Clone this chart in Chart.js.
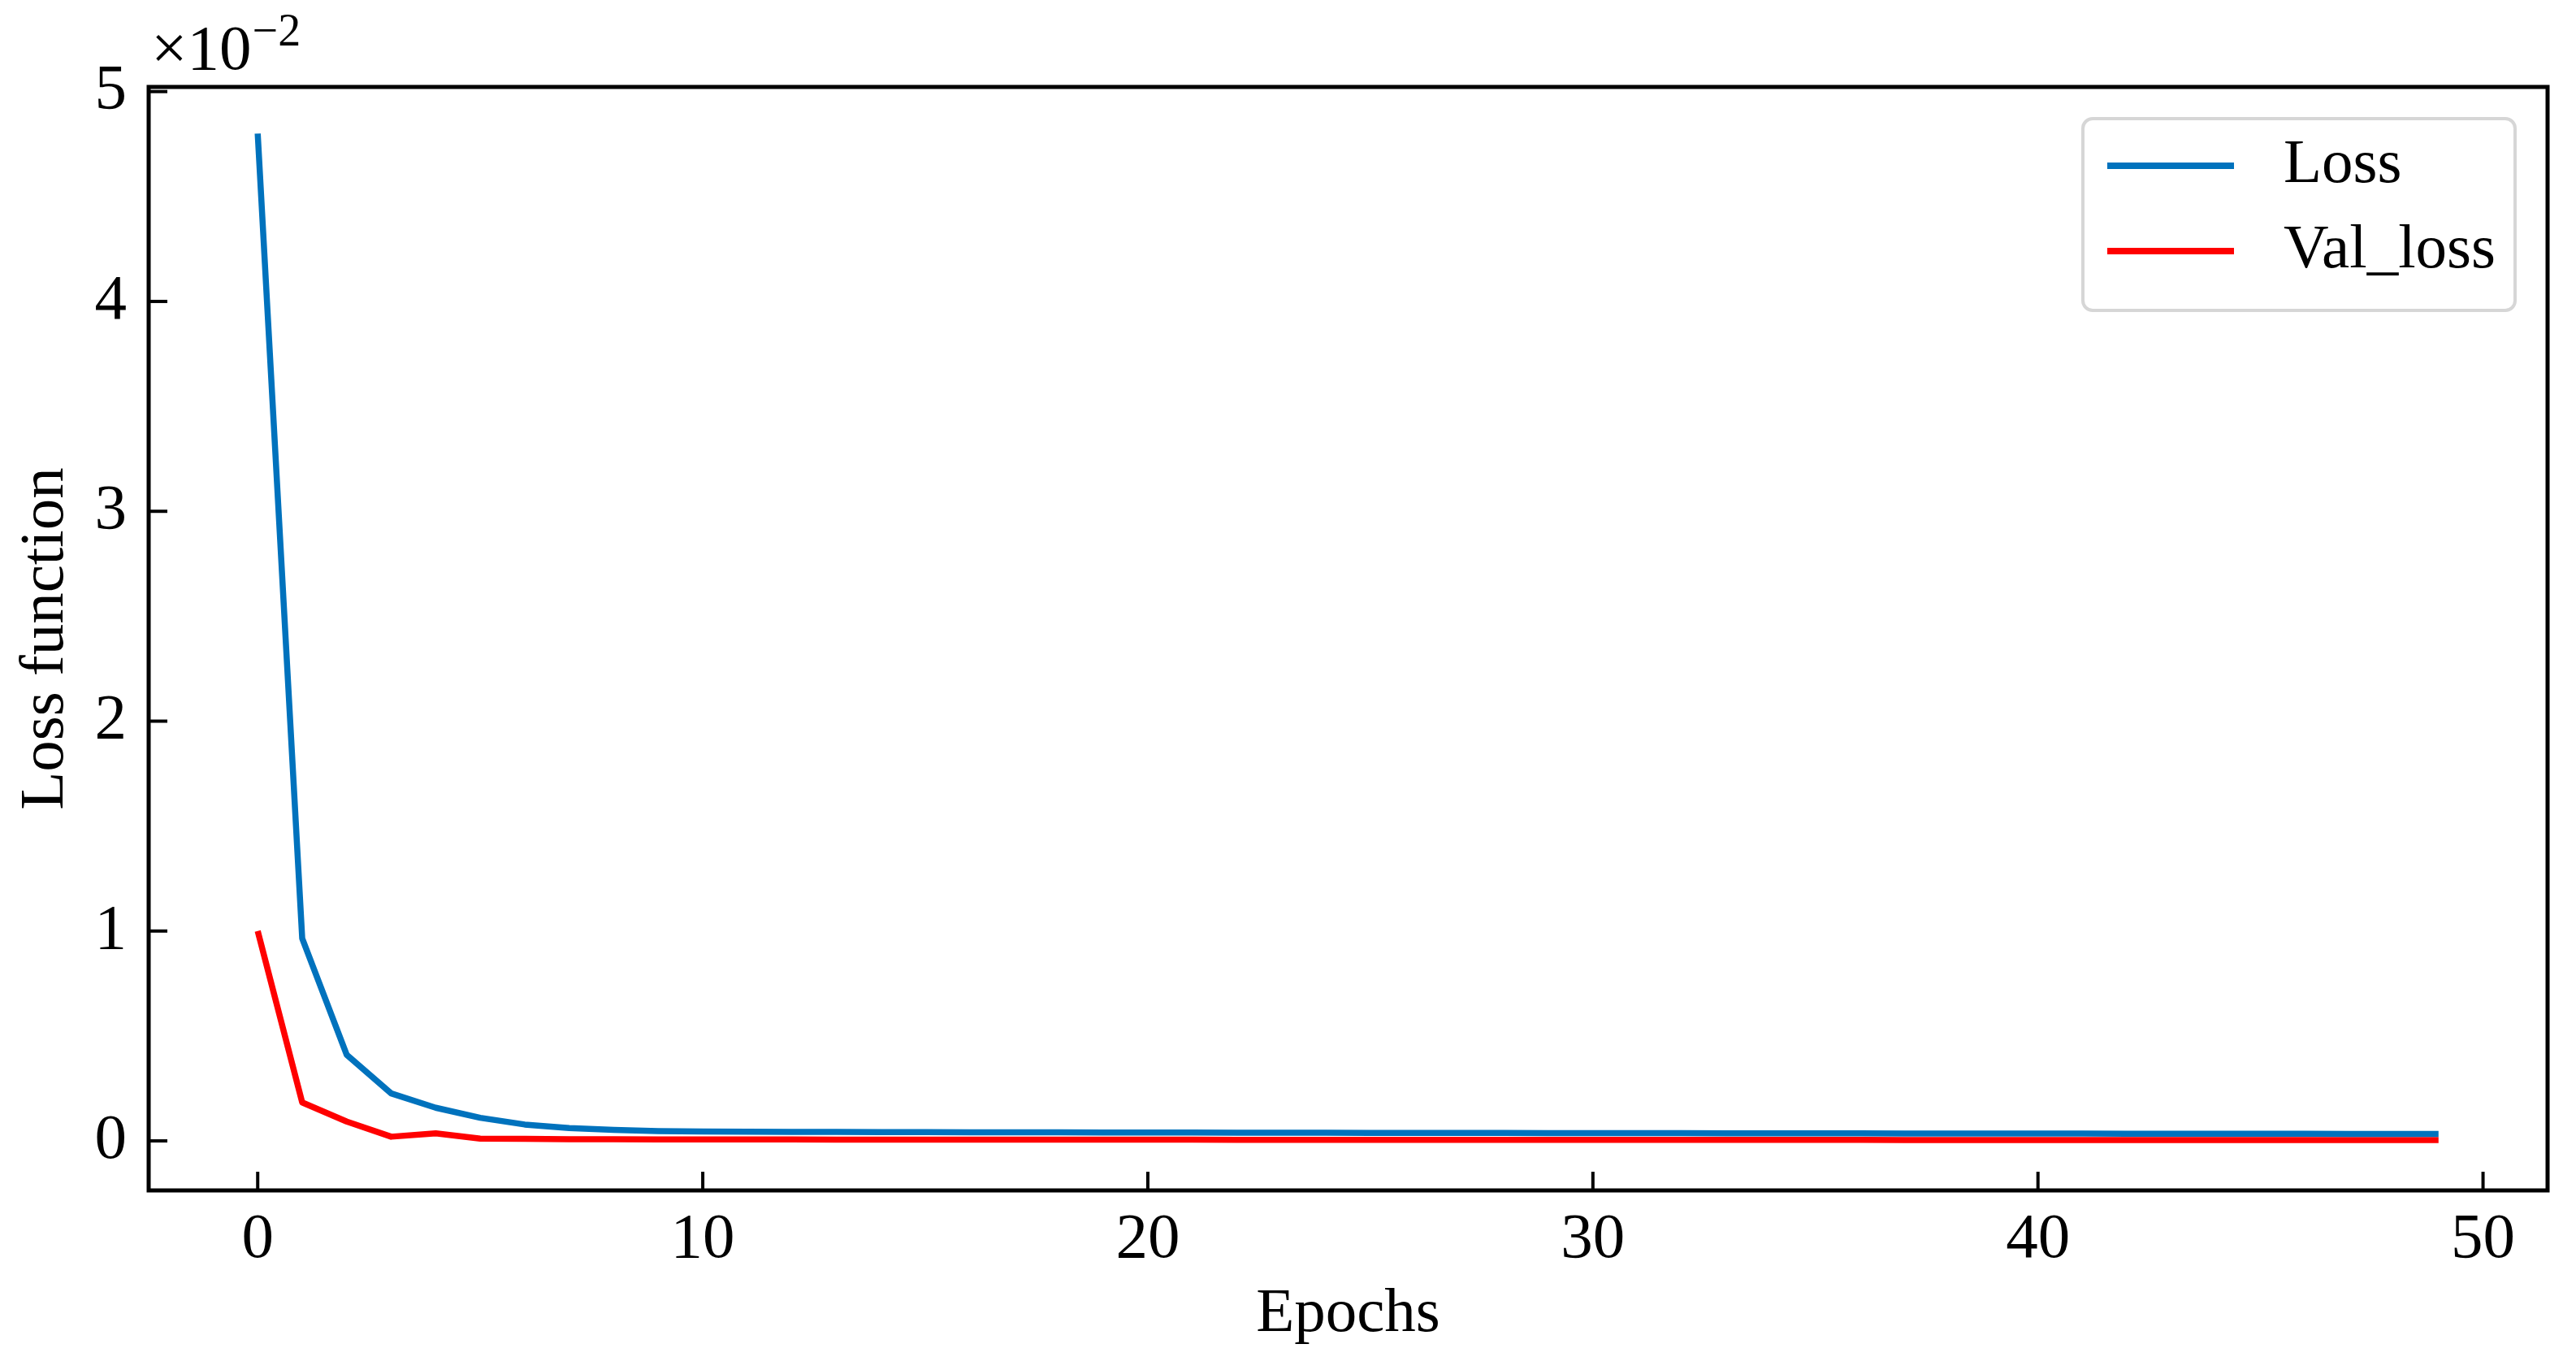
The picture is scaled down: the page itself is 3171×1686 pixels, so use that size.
<!DOCTYPE html>
<html>
<head>
<meta charset="utf-8">
<script src="https://cdn.jsdelivr.net/npm/chart.js@4.4.0/dist/chart.umd.min.js"></script>
<style>
  html, body { margin: 0; padding: 0; background: #fff; }
</style>
</head>
<body>
<canvas id="lossChart" width="3171" height="1686"></canvas>
<script>
"use strict"
// training history, values in units of 1e-2
var epochs = [0,1,2,3,4,5,6,7,8,9,10,11,12,13,14,15,16,17,18,19,20,21,22,23,24,
  25,26,27,28,29,30,31,32,33,34,35,36,37,38,39,40,41,42,43,44,45,46,47,48,49];
var lossVals = [4.80, 0.965, 0.41, 0.226, 0.158, 0.110, 0.078, 0.061, 0.052, 0.047,
  0.045, 0.044, 0.043, 0.043, 0.042, 0.042, 0.041, 0.041, 0.041, 0.040,
  0.040, 0.040, 0.039, 0.039, 0.039, 0.038, 0.038, 0.038, 0.038, 0.037,
  0.037, 0.037, 0.037, 0.036, 0.036, 0.036, 0.036, 0.035, 0.035, 0.035,
  0.035, 0.035, 0.034, 0.034, 0.034, 0.034, 0.034, 0.033, 0.033, 0.033];
var valLossVals = [1.00, 0.183, 0.092, 0.020, 0.036, 0.011, 0.010, 0.008, 0.008, 0.007,
  0.007, 0.007, 0.007, 0.006, 0.006, 0.006, 0.006, 0.006, 0.006, 0.006,
  0.006, 0.006, 0.005, 0.005, 0.005, 0.005, 0.005, 0.005, 0.005, 0.005,
  0.005, 0.005, 0.005, 0.005, 0.005, 0.005, 0.005, 0.004, 0.004, 0.004,
  0.004, 0.004, 0.004, 0.004, 0.004, 0.004, 0.004, 0.004, 0.004, 0.004];
var xTicks = [0, 10, 20, 30, 40, 50];
var yTicks = [0, 1, 2, 3, 4, 5];
var seriesNames = ["Loss", "Val_loss"];

var FONT = "Liberation Serif";

function toPoints(vals) {
  return epochs.map(function(e, i) { return {x: e, y: vals[i]}; });
}

// frame, inward ticks, offset text and legend box (matplotlib look)
var mplFrame = {
  id: "mplFrame",
  afterDraw: function(chart) {
    var ctx = chart.ctx;
    var a = chart.chartArea;
    var xs = chart.scales.x, ys = chart.scales.y;
    ctx.save();
    ctx.strokeStyle = "#000";
    ctx.lineWidth = 5;
    ctx.strokeRect(a.left, a.top, a.right - a.left, a.bottom - a.top);
    ctx.lineWidth = 4;
    xTicks.forEach(function(v) {
      var px = xs.getPixelForValue(v);
      ctx.beginPath(); ctx.moveTo(px, a.bottom); ctx.lineTo(px, a.bottom - 23); ctx.stroke();
    });
    yTicks.forEach(function(v) {
      var py = ys.getPixelForValue(v);
      ctx.beginPath(); ctx.moveTo(a.left, py); ctx.lineTo(a.left + 23, py); ctx.stroke();
    });

    // x axis title, centred under the plot
    ctx.fillStyle = "#000";
    ctx.textAlign = "center";
    ctx.textBaseline = "middle";
    ctx.font = "77px '" + FONT + "'";
    ctx.fillText("Epochs", (a.left + a.right) / 2, 1618);

    // x10^-2 offset label
    ctx.textBaseline = "alphabetic";
    ctx.textAlign = "left";
    ctx.font = "79px '" + FONT + "'";
    ctx.fillText("\u00d710", a.left + 3, 85);
    var w = ctx.measureText("\u00d710").width;
    ctx.font = "56px '" + FONT + "'";
    ctx.fillText("\u22122", a.left + 3 + w + 1, 56);

    // legend
    var lx = 2564, ly = 146, lw = 532, lh = 236, r = 12;
    ctx.beginPath();
    ctx.moveTo(lx + r, ly);
    ctx.arcTo(lx + lw, ly, lx + lw, ly + lh, r);
    ctx.arcTo(lx + lw, ly + lh, lx, ly + lh, r);
    ctx.arcTo(lx, ly + lh, lx, ly, r);
    ctx.arcTo(lx, ly, lx + lw, ly, r);
    ctx.closePath();
    ctx.fillStyle = "rgba(255,255,255,0.8)";
    ctx.fill();
    ctx.strokeStyle = "#d6d6d6";
    ctx.lineWidth = 4;
    ctx.stroke();
    chart.data.datasets.forEach(function(ds, i) {
      var yy = 204 + i * 105;
      ctx.strokeStyle = ds.borderColor;
      ctx.lineWidth = 8;
      ctx.beginPath(); ctx.moveTo(2594, yy); ctx.lineTo(2750, yy); ctx.stroke();
      ctx.fillStyle = "#000";
      ctx.font = "77px '" + FONT + "'";
      ctx.textBaseline = "middle";
      ctx.fillText(ds.label, 2811, yy);
    });
    ctx.restore();
  }
};

var ctxEl = document.getElementById("lossChart");
var lossChart = new Chart(ctxEl, {
  type: "line",
  data: {
    datasets: [
      {
        label: seriesNames[0],
        data: toPoints(lossVals),
        borderColor: "#0072BD",
        borderWidth: 7.5,
        pointRadius: 0,
        tension: 0,
        borderJoinStyle: "round",
        fill: false
      },
      {
        label: seriesNames[1],
        data: toPoints(valLossVals),
        borderColor: "#FF0000",
        borderWidth: 7.5,
        pointRadius: 0,
        tension: 0,
        borderJoinStyle: "round",
        fill: false
      }
    ]
  },
  options: {
    responsive: false,
    animation: false,
    devicePixelRatio: 1,
    layout: { padding: { left: 0, top: 107, right: 35, bottom: 0 } },
    plugins: {
      legend: { display: false },
      tooltip: { enabled: false }
    },
    scales: {
      x: {
        type: "linear",
        min: -2.45,
        max: 51.45,
        afterBuildTicks: function(scale) {
          scale.ticks = xTicks.map(function(v) { return {value: v}; });
        },
        afterFit: function(scale) { scale.height = 221; },
        grid: { display: false, drawTicks: false },
        border: { display: false },
        ticks: {
          color: "#000",
          font: { family: FONT, size: 79 },
          padding: 14,
          maxRotation: 0,
          callback: function(v) { return v; }
        },
        title: { display: false }
      },
      y: {
        min: -0.236,
        max: 5.022,
        afterBuildTicks: function(scale) {
          scale.ticks = yTicks.map(function(v) { return {value: v}; });
        },
        afterFit: function(scale) { scale.width = 183; },
        grid: { display: false, drawTicks: false },
        border: { display: false },
        ticks: {
          color: "#000",
          font: { family: FONT, size: 79 },
          padding: 27,
          callback: function(v) { return v; }
        },
        title: {
          display: true,
          text: "Loss function",
          color: "#000",
          font: { family: FONT, size: 77 },
          padding: { top: 11, bottom: 0 }
        }
      }
    }
  },
  plugins: [mplFrame]
});
</script>
</body>
</html>
